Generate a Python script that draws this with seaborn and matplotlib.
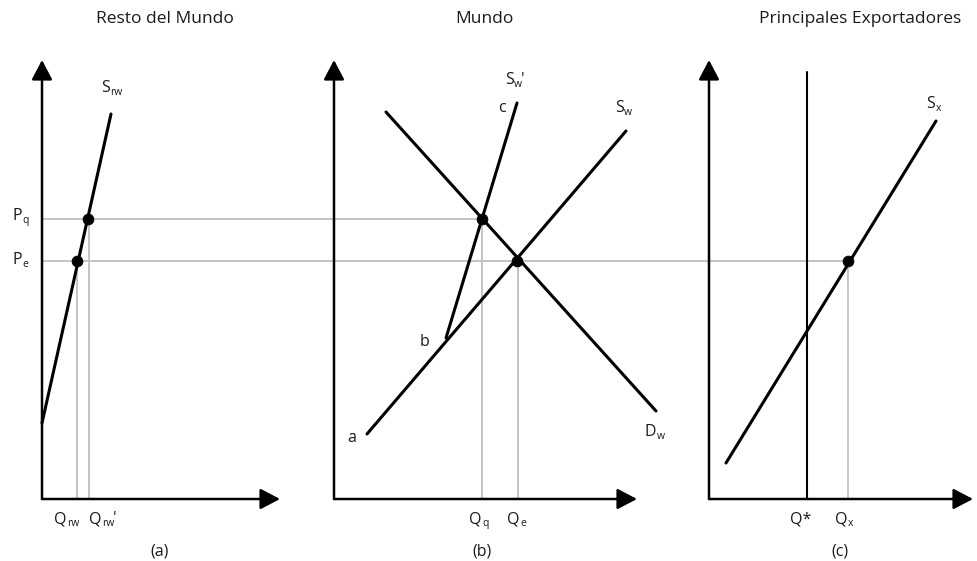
import matplotlib
matplotlib.use("Agg")
import matplotlib.pyplot as plt
import seaborn as sns
import pandas as pd

sns.set_theme(style="white")
plt.rcParams['font.family'] = ['Open Sans', 'DejaVu Sans']

# ---------------- data (diagram units: x = quantity position, y = price) ----------------
price_q = 280   # P_q
price_e = 238   # P_e

# panel (a) Resto del Mundo
a_origin = (42, 0)
a_xtip, a_ytip = 280, 439
s_rw_x = [42, 111]
s_rw_y = [76, 385]
q_rw, q_rw_prime = 77, 89

# panel (b) Mundo
b_origin = (334, 0)
b_xtip, b_ytip = 637, 439
d_w_x = [386, 656]
d_w_y = [387, 88]
s_w_x = [367, 626]
s_w_y = [65, 368]
s_wp_x = [446, 517]
s_wp_y = [161, 396]
q_q, q_e = 482, 518

# panel (c) Principales Exportadores
c_origin = (709, 0)
c_xtip, c_ytip = 973, 439
q_star = 807
q_star_top = 427
s_x_x = [726, 936]
s_x_y = [36, 378]
q_x = 848

# equilibrium points
dots_x = [q_rw, q_rw_prime - 1, q_q, q_e - 1, q_x]
dots_y = [price_e, price_q, price_q, price_e, price_e]

titles = ["Resto del Mundo", "Mundo", "Principales Exportadores"]
panel_tags = ["(a)", "(b)", "(c)"]

# ---------------- figure ----------------
fig = plt.figure(figsize=(9.77, 5.61), dpi=100)
ax = fig.add_axes([0, 0, 1, 1])
ax.set_xlim(0, 977)
ax.set_ylim(-62, 499)
ax.axis("off")

gray = "#c4c4c4"
glw = 1.4

def seg(xs, ys, color="black", lw=2.2, z=3):
    df = pd.DataFrame({"x": xs, "y": ys})
    sns.lineplot(data=df, x="x", y="y", ax=ax, color=color, lw=lw,
                 estimator=None, sort=False, zorder=z, legend=False)

# gray guide lines
seg([a_origin[0], q_q], [price_q, price_q], gray, glw, 1)
seg([a_origin[0], q_x], [price_e, price_e], gray, glw, 1)
for qx, py in [(q_rw, price_e), (q_rw_prime, price_q), (q_q, price_q), (q_e, price_e), (q_x, price_e)]:
    seg([qx, qx], [0, py], gray, glw, 1)

# axes with arrows
for (ox, oy), xt, yt in [(a_origin, a_xtip, a_ytip), (b_origin, b_xtip, b_ytip), (c_origin, c_xtip, c_ytip)]:
    for tip in [(xt, oy), (ox, yt)]:
        ax.annotate("", xy=tip, xytext=(ox, oy),
                    arrowprops=dict(arrowstyle="-|>,head_length=0.8,head_width=0.42",
                                    mutation_scale=15, lw=1.8, color="black",
                                    shrinkA=0, shrinkB=0), zorder=4)

# curves
seg(s_rw_x, s_rw_y)
seg(d_w_x, d_w_y)
seg(s_w_x, s_w_y)
seg(s_wp_x, s_wp_y)
seg(s_x_x, s_x_y)
seg([q_star, q_star], [0, q_star_top], "black", 1.5)

sns.scatterplot(x=dots_x, y=dots_y, ax=ax, color="black", s=60, zorder=5,
                edgecolor="black", legend=False)

tcol = "#1a1a1a"
FS = 11.5
SUB = 7.5

def lab(x, y, main, sub=None, prime=False, size=FS):
    t = ax.text(x, y, main, ha="left", va="baseline", fontsize=size, color=tcol)
    last = t
    if sub:
        last = ax.annotate(sub, xy=(1, 0), xycoords=t, xytext=(0.4, -1.2),
                           textcoords="offset points", ha="left", va="bottom",
                           fontsize=SUB, color=tcol)
    if prime:
        ax.annotate("'", xy=(1, 0), xycoords=(last, t), xytext=(-0.8, 0),
                    textcoords="offset points", ha="left", va="bottom",
                    fontsize=size, color=tcol)

def ctext(x, y, s, size=12.5):
    ax.text(x, y, s, ha="center", va="center", fontsize=size, color=tcol)

# titles
ctext(165, 480, titles[0])
ctext(484, 480, titles[1])
ctext(860, 480, titles[2])

# panel (a) labels
lab(12, 279, "P", "q")
lab(12, 235, "P", "e")
lab(101, 407, "S", "rw")
lab(54, -24, "Q", "rw")
lab(89, -24, "Q", "rw", prime=True)
ctext(160, -53, panel_tags[0], 11.5)

# panel (b) labels
lab(505, 415, "S", "w", prime=True)
lab(498, 387, "c")
lab(615, 387, "S", "w")
lab(420, 153, "b")
lab(347, 57, "a")
lab(645, 63, "D", "w")
lab(469, -24, "Q", "q")
lab(507, -24, "Q", "e")
ctext(482, -53, panel_tags[1], 11.5)

# panel (c) labels
lab(926, 391, "S", "x")
lab(790, -24, "Q*")
lab(835, -24, "Q", "x")
ctext(840, -53, panel_tags[2], 11.5)

fig.savefig("out.png", dpi=100)
